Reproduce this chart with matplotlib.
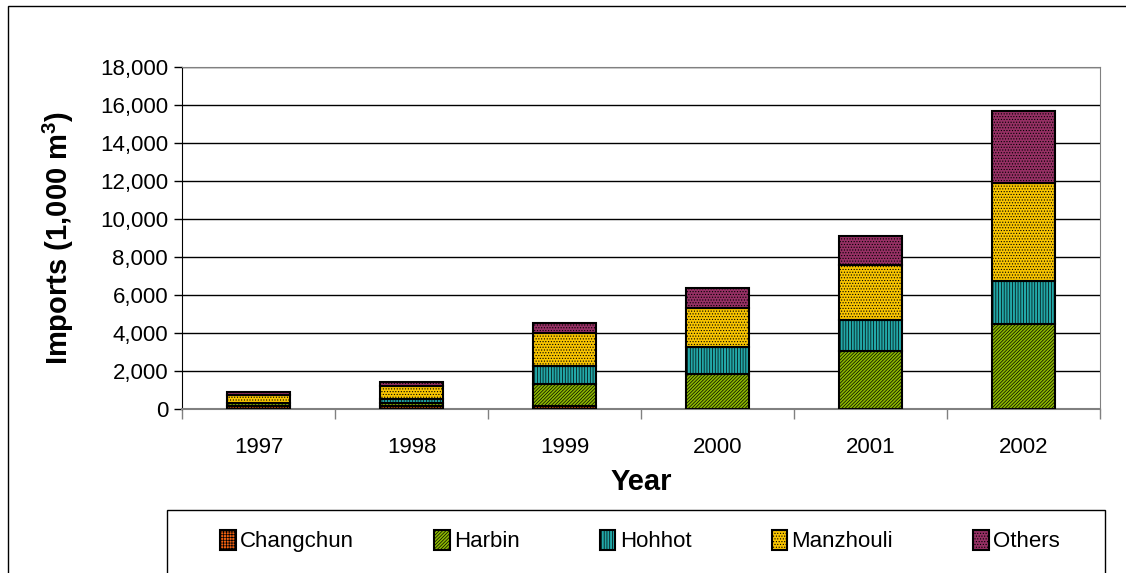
import numpy as np
import matplotlib
matplotlib.use('Agg')
import matplotlib.pyplot as plt
from matplotlib.patches import Rectangle
from matplotlib.ticker import FuncFormatter

plt.rcParams['font.family'] = ['Liberation Sans', 'DejaVu Sans']
plt.rcParams['mathtext.fontset'] = 'custom'
plt.rcParams['mathtext.rm'] = 'Liberation Sans'
plt.rcParams['mathtext.bf'] = 'Liberation Sans:bold'
plt.rcParams['hatch.linewidth'] = 0.5

annees = ['1997', '1998', '1999', '2000', '2001', '2002']
changchun = [160, 160, 175, 0, 0, 0]
harbin = [170, 140, 1155, 1830, 3050, 4500]
hohhot = [0, 210, 930, 1450, 1650, 2260]
manzhouli = [410, 700, 1740, 2040, 2880, 5140]
autres = [170, 210, 510, 1030, 1540, 3800]

series = [
    ('Changchun', changchun, '#f06010', '++++++'),
    ('Harbin', harbin, '#8cb800', '//////////'),
    ('Hohhot', hohhot, '#22a8a8', '||||||'),
    ('Manzhouli', manzhouli, '#f8c400', '......'),
    ('Others', autres, '#963064', '......'),
]

fig = plt.figure(figsize=(11.26, 5.73), dpi=100)
W, H = 1126, 573
ax = fig.add_axes([182 / W, 1 - 409 / H, (1100 - 182) / W, (409 - 67) / H])

x = np.arange(len(annees))
bas = np.zeros(len(annees))
for nom, vals, couleur, motif in series:
    ax.bar(x, vals, width=0.41, bottom=bas, color=couleur, edgecolor='black',
           linewidth=1.5, hatch=motif, label=nom, zorder=3)
    bas += np.array(vals)

ax.set_xlim(-0.5, len(annees) - 0.5)
ax.set_ylim(0, 18000)
ax.set_yticks(np.arange(0, 18001, 2000))
ax.yaxis.set_major_formatter(FuncFormatter(lambda v, p: f'{int(v):,}'))
ax.yaxis.grid(True, color='black', linewidth=1, zorder=0)
ax.set_axisbelow(True)

ax.set_xticks(x)
ax.set_xticklabels(annees)
ax.set_xticks(np.arange(-0.5, len(annees), 1), minor=True)
ax.tick_params(axis='x', which='major', length=0, pad=20, labelsize=16)
ax.tick_params(axis='x', which='minor', length=7, width=1, direction='out', color='#808080')
ax.tick_params(axis='y', length=6, width=1, direction='out', labelsize=16, pad=4)

for s in ['top', 'right']:
    ax.spines[s].set_color('#808080')
ax.spines['bottom'].set_color('#808080')
ax.spines['bottom'].set_linewidth(1.5)
ax.spines['left'].set_color('black')

ax.set_xlabel('Year', fontsize=21, fontweight='bold', labelpad=7)
ax.set_ylabel(r'Imports (1,000 m$^\mathbf{3}$)', fontsize=21, fontweight='bold', labelpad=17)

# cadre du graphique et de la legende
fig.patches.append(Rectangle((8 / W, -0.1), 1.2, 1 - 6 / H + 0.1, transform=fig.transFigure,
                             fill=False, edgecolor='black', linewidth=1))
fig.patches.append(Rectangle((167 / W, -0.1), (1105 - 167) / W, 1 - 510 / H + 0.1,
                             transform=fig.transFigure, fill=False, edgecolor='black', linewidth=1))

fig.legend(loc='center', bbox_to_anchor=(640 / W, 1 - 541 / H), ncol=5, frameon=False,
           fontsize=16, handlelength=0.7, handleheight=1.0, handletextpad=0.2,
           columnspacing=3.6)

fig.savefig('out.png', dpi=100)
